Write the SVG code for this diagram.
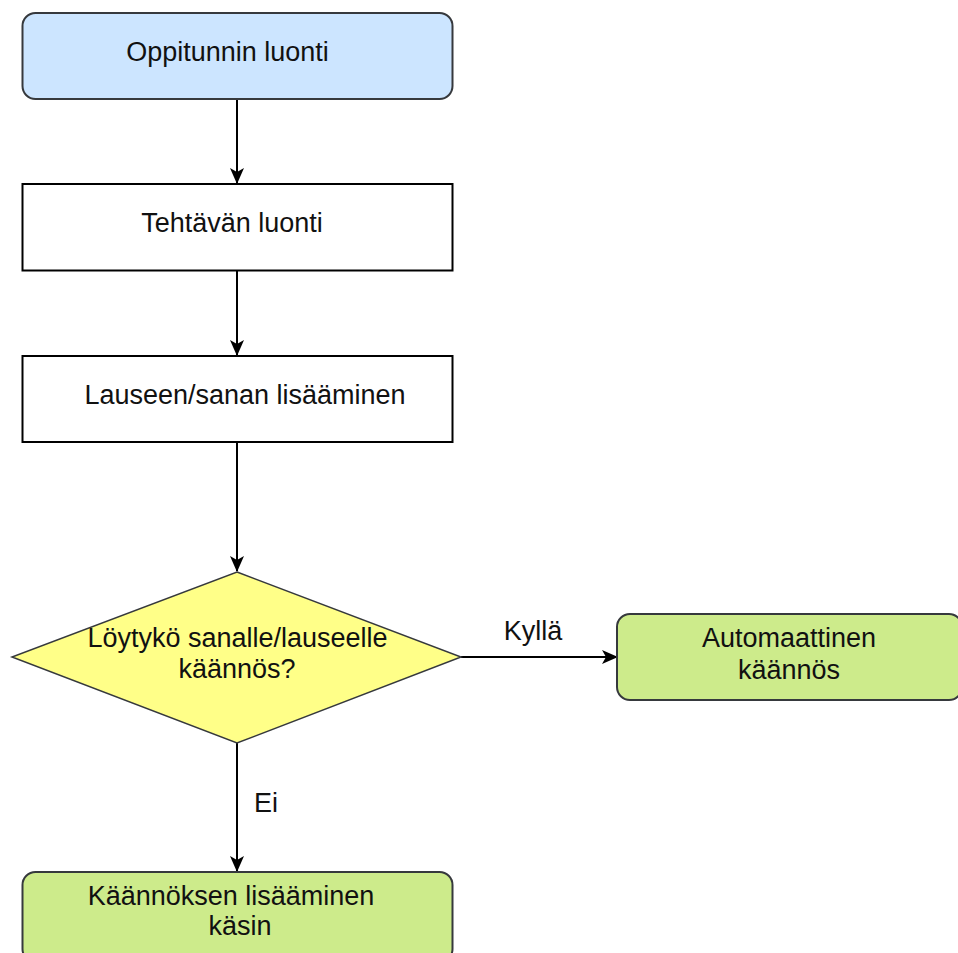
<svg xmlns="http://www.w3.org/2000/svg" width="958" height="953" viewBox="0 0 958 953">
<defs>
<style>
text{font-family:"Liberation Sans",Arial,sans-serif;font-size:27px;fill:#111;text-anchor:middle}
.edge{stroke:#000;stroke-width:2;fill:none}
.plain{fill:#fff;stroke:#000;stroke-width:2}
.blue{fill:#cce5ff;stroke:#36393d;stroke-width:2}
.green{fill:#cdeb8b;stroke:#36393d;stroke-width:2}
.yellow{fill:#ffff88;stroke:#36393d;stroke-width:1.5}
</style>
<marker id="arr" viewBox="0 0 16 14" refX="15" refY="7" markerWidth="16" markerHeight="14" markerUnits="userSpaceOnUse" orient="auto">
<path d="M0,0 L16,7 L0,14 L4,7 Z" fill="#000"/>
</marker>
</defs>
<rect width="958" height="953" fill="#fff"/>
<g id="connectors">
<line class="edge" x1="237" y1="99" x2="237" y2="183" marker-end="url(#arr)"/>
<line class="edge" x1="237" y1="271" x2="237" y2="355" marker-end="url(#arr)"/>
<line class="edge" x1="237" y1="442" x2="237" y2="571" marker-end="url(#arr)"/>
<line class="edge" x1="461" y1="657" x2="617" y2="657" marker-end="url(#arr)"/>
<text x="533" y="640">Kyllä</text>
<line class="edge" x1="237" y1="743" x2="237" y2="871" marker-end="url(#arr)"/>
<text x="266" y="812">Ei</text>
</g>
<g id="n1">
<rect class="blue" x="22.5" y="13" width="430" height="86" rx="13"/>
<text x="227.5" y="61">Oppitunnin luonti</text>
</g>
<g id="n2">
<rect class="plain" x="22.5" y="184" width="430" height="86.5"/>
<text x="232" y="232">Tehtävän luonti</text>
</g>
<g id="n3">
<rect class="plain" x="22.5" y="356" width="430" height="86"/>
<text x="245" y="404">Lauseen/sanan lisääminen</text>
</g>
<g id="n4">
<polygon class="yellow" points="237,572 461,657 237,743 12,657"/>
<text x="237.5" y="647">Löytykö sanalle/lauseelle</text>
<text x="237" y="678">käännös?</text>
</g>
<g id="n5">
<rect class="green" x="617" y="614" width="345" height="86" rx="13"/>
<text x="789" y="647">Automaattinen</text>
<text x="789" y="679">käännös</text>
</g>
<g id="n6">
<rect class="green" x="22.5" y="872" width="430" height="90" rx="13"/>
<text x="231" y="905">Käännöksen lisääminen</text>
<text x="240" y="935">käsin</text>
</g>
</svg>
